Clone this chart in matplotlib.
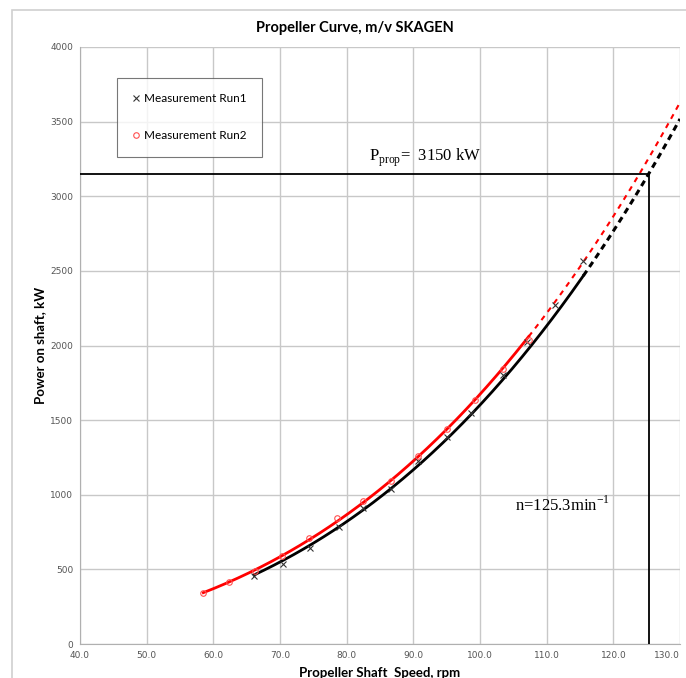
import numpy as np
import matplotlib
matplotlib.use("Agg")
import matplotlib.pyplot as plt
from matplotlib.patches import Rectangle

# Measured shaft speed (rpm) and shaft power (kW)
run1_rpm = [66.1, 70.5, 74.5, 78.9, 82.5, 86.7, 90.7, 95.0, 98.7, 103.4, 107.1, 111.3, 115.5]
run1_kw = [455, 536, 643, 784, 911, 1038, 1226, 1387, 1547, 1802, 2023, 2271, 2565]
run2_rpm = [58.5, 62.4, 66.3, 70.3, 74.4, 78.6, 82.5, 86.7, 90.7, 95.1, 99.3, 103.4, 107.3]
run2_kw = [342, 415, 489, 589, 710, 844, 958, 1092, 1259, 1440, 1634, 1842, 2036]

# Operating point on the propeller curve
p_prop = 3150
n_prop = 125.3
x_ticks = [40, 50, 60, 70, 80, 90, 100, 110, 120, 130]
y_ticks = [0, 500, 1000, 1500, 2000, 2500, 3000, 3500, 4000]


def power_fit(x, y):
    b, a = np.polyfit(np.log(x), np.log(y), 1)
    return lambda n: np.exp(a) * np.asarray(n) ** b


# Run 1: cube-law propeller curve through the operating point
c_prop = p_prop / n_prop ** 3
fit1 = lambda n: c_prop * np.asarray(n) ** 3
# Run 2: power-law fit of the measured points
fit2 = power_fit(run2_rpm, run2_kw)

fig = plt.figure(figsize=(6.86, 6.78), dpi=100)
fig.patches.append(Rectangle((12 / 686, -0.1), 1.2, 1 - 10 / 678 + 0.1,
                             transform=fig.transFigure, fill=False,
                             edgecolor="#d0d0d0", linewidth=1.2))
ax = fig.add_axes([80 / 686, 1 - 644 / 678, 600 / 686, 597 / 678])

ax.set_xlim(40, 130)
ax.set_ylim(0, 4000)
ax.set_xticks(x_ticks)
ax.set_xticklabels([f"{v:.1f}" for v in x_ticks])
ax.set_yticks(y_ticks)
ax.grid(True, color="#c8c8c8", linewidth=1.0)
ax.set_axisbelow(True)
for side in ("top", "right"):
    ax.spines[side].set_visible(False)
for side in ("left", "bottom"):
    ax.spines[side].set_color("#b0b0b0")
ax.tick_params(length=0, labelsize=6.5, colors="#555555", pad=5)
# keep the last speed label inside the figure
ax.get_xticklabels()[-1].set_horizontalalignment("right")

# Fitted propeller curves: solid over the measured range, dashed extrapolation
n1 = np.linspace(min(run1_rpm), max(run1_rpm), 200)
n1e = np.linspace(max(run1_rpm), 130, 100)
n2 = np.linspace(min(run2_rpm), max(run2_rpm), 200)
n2e = np.linspace(max(run2_rpm), 130, 150)
ax.plot(n1, fit1(n1), color="black", linewidth=2.0, zorder=3)
ax.plot(n1e, fit1(n1e), color="black", linewidth=2.2, linestyle=(0, (2, 1.5)), zorder=3)
ax.plot(n2, fit2(n2), color="red", linewidth=2.0, zorder=4)
ax.plot(n2e, fit2(n2e), color="red", linewidth=1.5, linestyle=(0, (2.5, 2.5)), zorder=4)

ax.plot(run1_rpm, run1_kw, linestyle="none", marker="x", markersize=4,
        markeredgewidth=0.8, color="#333333", label="Measurement Run1", zorder=5)
ax.plot(run2_rpm, run2_kw, linestyle="none", marker="o", markersize=4,
        markerfacecolor="none", markeredgewidth=0.8, color="#ff5050",
        label="Measurement Run2", zorder=5)

# Operating point lines
ax.plot([40, n_prop], [p_prop, p_prop], color="black", linewidth=1.3, zorder=6)
ax.plot([n_prop, n_prop], [0, p_prop], color="black", linewidth=1.3, zorder=6)

ax.text(83.4, p_prop + 30, r"P$_{\mathregular{prop}}$=  3150 kW",
        family="Liberation Serif", fontsize=12, ha="left", va="bottom")
ax.text(105.3, 930, r"n=125.3min$^{\mathregular{-1}}$",
        family="Liberation Serif", fontsize=12, ha="left", va="center")

leg = ax.legend(loc="upper left", bbox_to_anchor=(31 / 600, 1 - 25 / 597),
                frameon=True, fancybox=False, edgecolor="#555555",
                handlelength=0.6, handletextpad=0.4,
                labelspacing=2.2, borderpad=1.3, prop={"family": "Lato", "size": 8.5})
leg.get_frame().set_linewidth(0.8)

fig.text(355 / 686, 1 - 28 / 678, "Propeller Curve, m/v SKAGEN",
         ha="center", va="center", fontsize=10.5, fontweight="bold", family="Lato")
ax.set_xlabel("Propeller Shaft  Speed, rpm", fontsize=9.5, fontweight="bold",
              family="Lato", labelpad=5)
ax.set_ylabel("Power on shaft, kW", fontsize=9.5, fontweight="bold",
              family="Lato", labelpad=3)

fig.savefig("out.png", dpi=100)
